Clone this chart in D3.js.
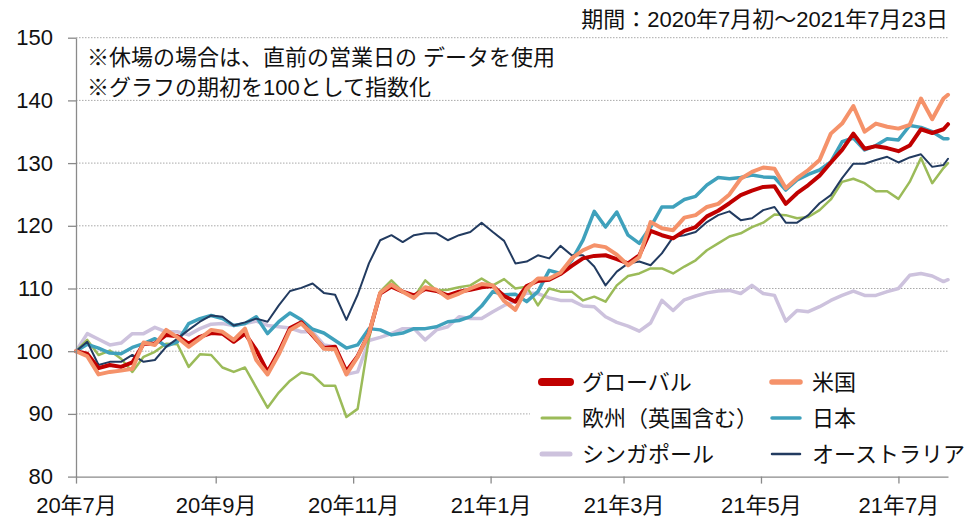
<!DOCTYPE html>
<html>
<head>
<meta charset="utf-8">
<script src="https://cdn.jsdelivr.net/npm/d3@7/dist/d3.min.js"></script>
<style>
    body { margin: 0; background: #fff; }
    text { font-family: "Liberation Sans", "Noto Sans CJK JP", sans-serif; fill: #111; }
</style>
</head>
<body>
<svg id="chart" width="965" height="519"></svg>
<script>
(function() {
// observation dates: every 5 days from the start, plus the last day
const startDate = new Date(2020, 6, 1);
const endDate = new Date(2021, 6, 23);
const stepDays = 5;
const dates = d3.range(78).map(i => d3.timeDay.offset(startDate, i * stepDays)).concat([endDate]);

const tickDates = [new Date(2020, 6, 1), new Date(2020, 8, 1), new Date(2020, 10, 1),
    new Date(2021, 0, 1), new Date(2021, 2, 1), new Date(2021, 4, 1), new Date(2021, 6, 1)];
const yTicks = [80, 90, 100, 110, 120, 130, 140, 150];

const seriesNames = ['グローバル', '米国', '欧州（英国含む）', '日本', 'シンガポール', 'オーストラリア'];

const globalVals = [100, 99.6, 97.3, 97.8, 97.5, 98.2, 101.2, 101.2, 102.6, 102.4,
    101.2, 102.3, 102.9, 102.8, 101.5, 102.8, 100.2, 96.7, 99.9, 103.7,
    104.6, 102.5, 100.5, 100.7, 96.8, 99.2, 102.8, 109.2, 110.3, 109.5,
    108.9, 109.9, 109.6, 108.9, 109.5, 109.8, 110.2, 110.4, 108.8, 107.9,
    110.4, 111.2, 111.4, 112.3, 113.6, 114.8, 115.2, 115.3, 114.7, 114,
    115.3, 119.2, 118.5, 118, 119.2, 119.8, 121.5, 122.4, 123.6, 124.9,
    125.6, 126.2, 126.3, 123.5, 125.2, 126.5, 128, 130.1, 132.1, 134.7,
    132.3, 132.7, 132.4, 131.9, 132.8, 135.4, 134.8, 135.4, 136.2];

const usVals = [100, 99.2, 96.3, 96.7, 96.9, 97.2, 101.4, 101, 103.4, 102.2,
    100.7, 102, 103.4, 103.1, 101.8, 103.6, 98.6, 96.3, 99.5, 103.4,
    104.4, 102.7, 100.4, 100.3, 96.3, 99.1, 102.8, 109.3, 110.6, 109.5,
    108.5, 110.2, 109.8, 108.5, 109.2, 110, 110.7, 110.5, 108, 106.6,
    110, 111.6, 111.6, 112.5, 114.8, 116.1, 116.9, 116.6, 115.4, 113.7,
    115, 120.6, 119.6, 119.3, 121.3, 121.7, 123, 123.5, 125, 127.5,
    128.6, 129.3, 129.1, 126, 127.6, 128.9, 130.5, 134.7, 136.3, 139.1,
    135, 136.3, 135.8, 135.5, 136.1, 140.3, 137, 140.3, 140.9];

const europeVals = [100, 101.8, 99.4, 100.1, 98.8, 96.7, 99.1, 99.9, 101.2, 101.1,
    97.5, 99.5, 99.4, 97.4, 96.7, 97.4, 94.2, 91, 93.4, 95.3,
    96.6, 96.2, 94.5, 94.5, 89.5, 90.8, 102, 109.5, 111.3, 109.5,
    108.6, 111.3, 109.7, 109.8, 110.2, 110.5, 111.6, 110.5, 111.5, 110,
    110.3, 107.3, 110, 109.5, 109.5, 108.1, 108.7, 107.9, 110.5, 112,
    112.4, 113.2, 113.2, 112.4, 113.5, 114.5, 116.1, 117.2, 118.3, 118.8,
    119.8, 120.5, 121.8, 121.7, 121.2, 121.4, 122.5, 124.2, 127, 127.5,
    126.8, 125.5, 125.5, 124.3, 127, 130.8, 126.8, 129.2, 130];

const japanVals = [100, 101.1, 100.5, 99.7, 99.6, 100.6, 101.2, 102, 100.8, 101.5,
    104.4, 105.2, 105.7, 105.2, 104.1, 104.4, 105.5, 102.8, 104.7, 106.1,
    105, 103.5, 102.9, 101.7, 100.5, 101, 103.6, 103.4, 102.6, 102.9,
    103.6, 103.6, 103.9, 104.7, 104.9, 105.5, 107.2, 109.5, 109, 109.1,
    107.9, 109.5, 112.9, 112.4, 114.5, 117.7, 122.3, 119.8, 122.2, 118.5,
    117.2, 119.8, 123, 123, 124.2, 124.7, 126.5, 127.7, 127.5, 127.7,
    128.1, 127.8, 127.7, 125.7, 127.3, 128.2, 128.9, 130.2, 133.4, 134,
    132.1, 132.8, 133.9, 133.7, 136, 135.7, 135, 133.9, 133.9];

const singaporeVals = [100, 102.8, 101.9, 101, 101.3, 102.8, 102.8, 103.8, 103.1, 103.1,
    102.6, 103.6, 104.3, 104.4, 104.1, 104.4, 104.8, 104.1, 103.9, 103.7,
    103.1, 103.1, 101, 100.7, 96.3, 96.7, 101.7, 102.2, 102.8, 103.6,
    103.6, 101.8, 103.4, 103.9, 105.5, 105.2, 105.2, 106.3, 107.3, 108,
    109.3, 109.2, 108.5, 108.1, 108.1, 107.2, 107.1, 105.5, 104.6, 104,
    103.2, 104.5, 108.1, 106.5, 108.2, 108.8, 109.3, 109.6, 109.7, 109.2,
    110.5, 109.2, 108.9, 104.8, 106.5, 106.3, 107.1, 108.1, 108.9, 109.6,
    108.9, 108.9, 109.5, 110, 112.1, 112.4, 112, 111.1, 111.4];

const australiaVals = [100, 101.5, 97.8, 98.3, 98.3, 99.4, 98.3, 98.6, 100.7, 102,
    103.4, 104.7, 105.7, 105.5, 104.1, 104.6, 105.2, 104.7, 107.3, 109.6,
    110.1, 110.8, 109.3, 109, 105, 109, 114, 117.7, 118.5, 117.4,
    118.5, 118.8, 118.8, 117.7, 118.5, 119, 120.5, 119, 117.6, 114,
    114.3, 115.3, 114.8, 116.8, 115.3, 115.3, 113.5, 110.5, 112.7, 114,
    114.3, 113.7, 115.6, 118.2, 118.5, 119, 120.6, 121.7, 122.3, 120.9,
    121.2, 122.5, 123, 120.5, 120.5, 121.7, 123.6, 124.9, 127.6, 129.9,
    129.9, 130.5, 131, 130.1, 130.9, 131.4, 129.4, 129.7, 130.7];

const seriesVals = [globalVals, usVals, europeVals, japanVals, singaporeVals, australiaVals];
const colors = ['#C00000', '#F5926A', '#9BBB59', '#3FA1BC', '#CDC2DD', '#223B60'];
const lineWidths = [4, 4, 2.5, 3.5, 3.5, 2];
const legendWidths = [8, 5.5, 3, 3.5, 5, 2.5];
// drawing order (back to front)
const drawOrder = [4, 2, 3, 5, 0, 1];

const svg = d3.select('#chart');
const plotLeft = 76, plotRight = 948, plotTop = 37.7, plotBottom = 476.6;

const x = d3.scaleTime().domain([startDate, endDate]).range([plotLeft, plotRight]);
const y = d3.scaleLinear().domain([80, 150]).range([plotBottom, plotTop]);

// dotted grid
svg.append('g')
    .selectAll('line')
    .data(yTicks.filter(v => v > 80))
    .enter()
    .append('line')
    .attr('x1', plotLeft).attr('x2', plotRight)
    .attr('y1', d => y(d)).attr('y2', d => y(d))
    .attr('stroke', '#a9a9a9')
    .attr('stroke-width', 1)
    .attr('stroke-dasharray', '1.5,1.5');

// lines
const line = d3.line()
    .x((d, i) => x(dates[i]))
    .y(d => y(d))
    .curve(d3.curveLinear);

svg.append('g')
    .selectAll('path')
    .data(drawOrder)
    .enter()
    .append('path')
    .attr('d', i => line(seriesVals[i]))
    .attr('fill', 'none')
    .attr('stroke', i => colors[i])
    .attr('stroke-width', i => lineWidths[i])
    .attr('stroke-linejoin', 'round')
    .attr('stroke-linecap', 'round');

// axes
const yAxis = svg.append('g')
    .attr('transform', `translate(${plotLeft},0)`)
    .call(d3.axisLeft(y).tickValues(yTicks).tickSize(8).tickSizeOuter(0).tickPadding(15));
const xAxis = svg.append('g')
    .attr('transform', `translate(0,${plotBottom})`)
    .call(d3.axisBottom(x).tickValues(tickDates).tickFormat(d3.timeFormat('%y年%-m月'))
        .tickSize(7).tickSizeOuter(0).tickPadding(14));

[yAxis, xAxis].forEach(g => {
    g.selectAll('path, line').attr('stroke', '#8a8a8a').attr('stroke-width', 1.3);
    g.selectAll('text').style('font-size', '22px').attr('fill', '#111');
});

// legend box
svg.append('rect')
    .attr('x', 530).attr('y', 364).attr('width', 420).attr('height', 108)
    .attr('fill', '#fff');

const legendCols = [540, 770];
const legendRows = [382, 418, 454];
const legend = svg.append('g')
    .selectAll('g')
    .data(d3.range(6))
    .enter()
    .append('g')
    .attr('transform', i => `translate(${legendCols[i % 2]},${legendRows[Math.floor(i / 2)]})`);
legend.append('line')
    .attr('x1', 2).attr('x2', 30)
    .attr('stroke', i => colors[i])
    .attr('stroke-width', i => legendWidths[i])
    .attr('stroke-linecap', 'round');
legend.append('text')
    .attr('x', 42)
    .attr('dy', '0.35em')
    .style('font-size', '22px')
    .text(i => seriesNames[i]);

// period and notes
svg.append('text')
    .attr('x', plotRight).attr('y', 26.5)
    .attr('text-anchor', 'end')
    .style('font-size', '22px')
    .text('期間：2020年7月初～2021年7月23日');

svg.append('text')
    .attr('x', 87).attr('y', 65)
    .style('font-size', '22px')
    .text('※休場の場合は、直前の営業日の データを使用');
svg.append('text')
    .attr('x', 87).attr('y', 95)
    .style('font-size', '22px')
    .text('※グラフの期初を100として指数化');
})();
</script>
</body>
</html>
